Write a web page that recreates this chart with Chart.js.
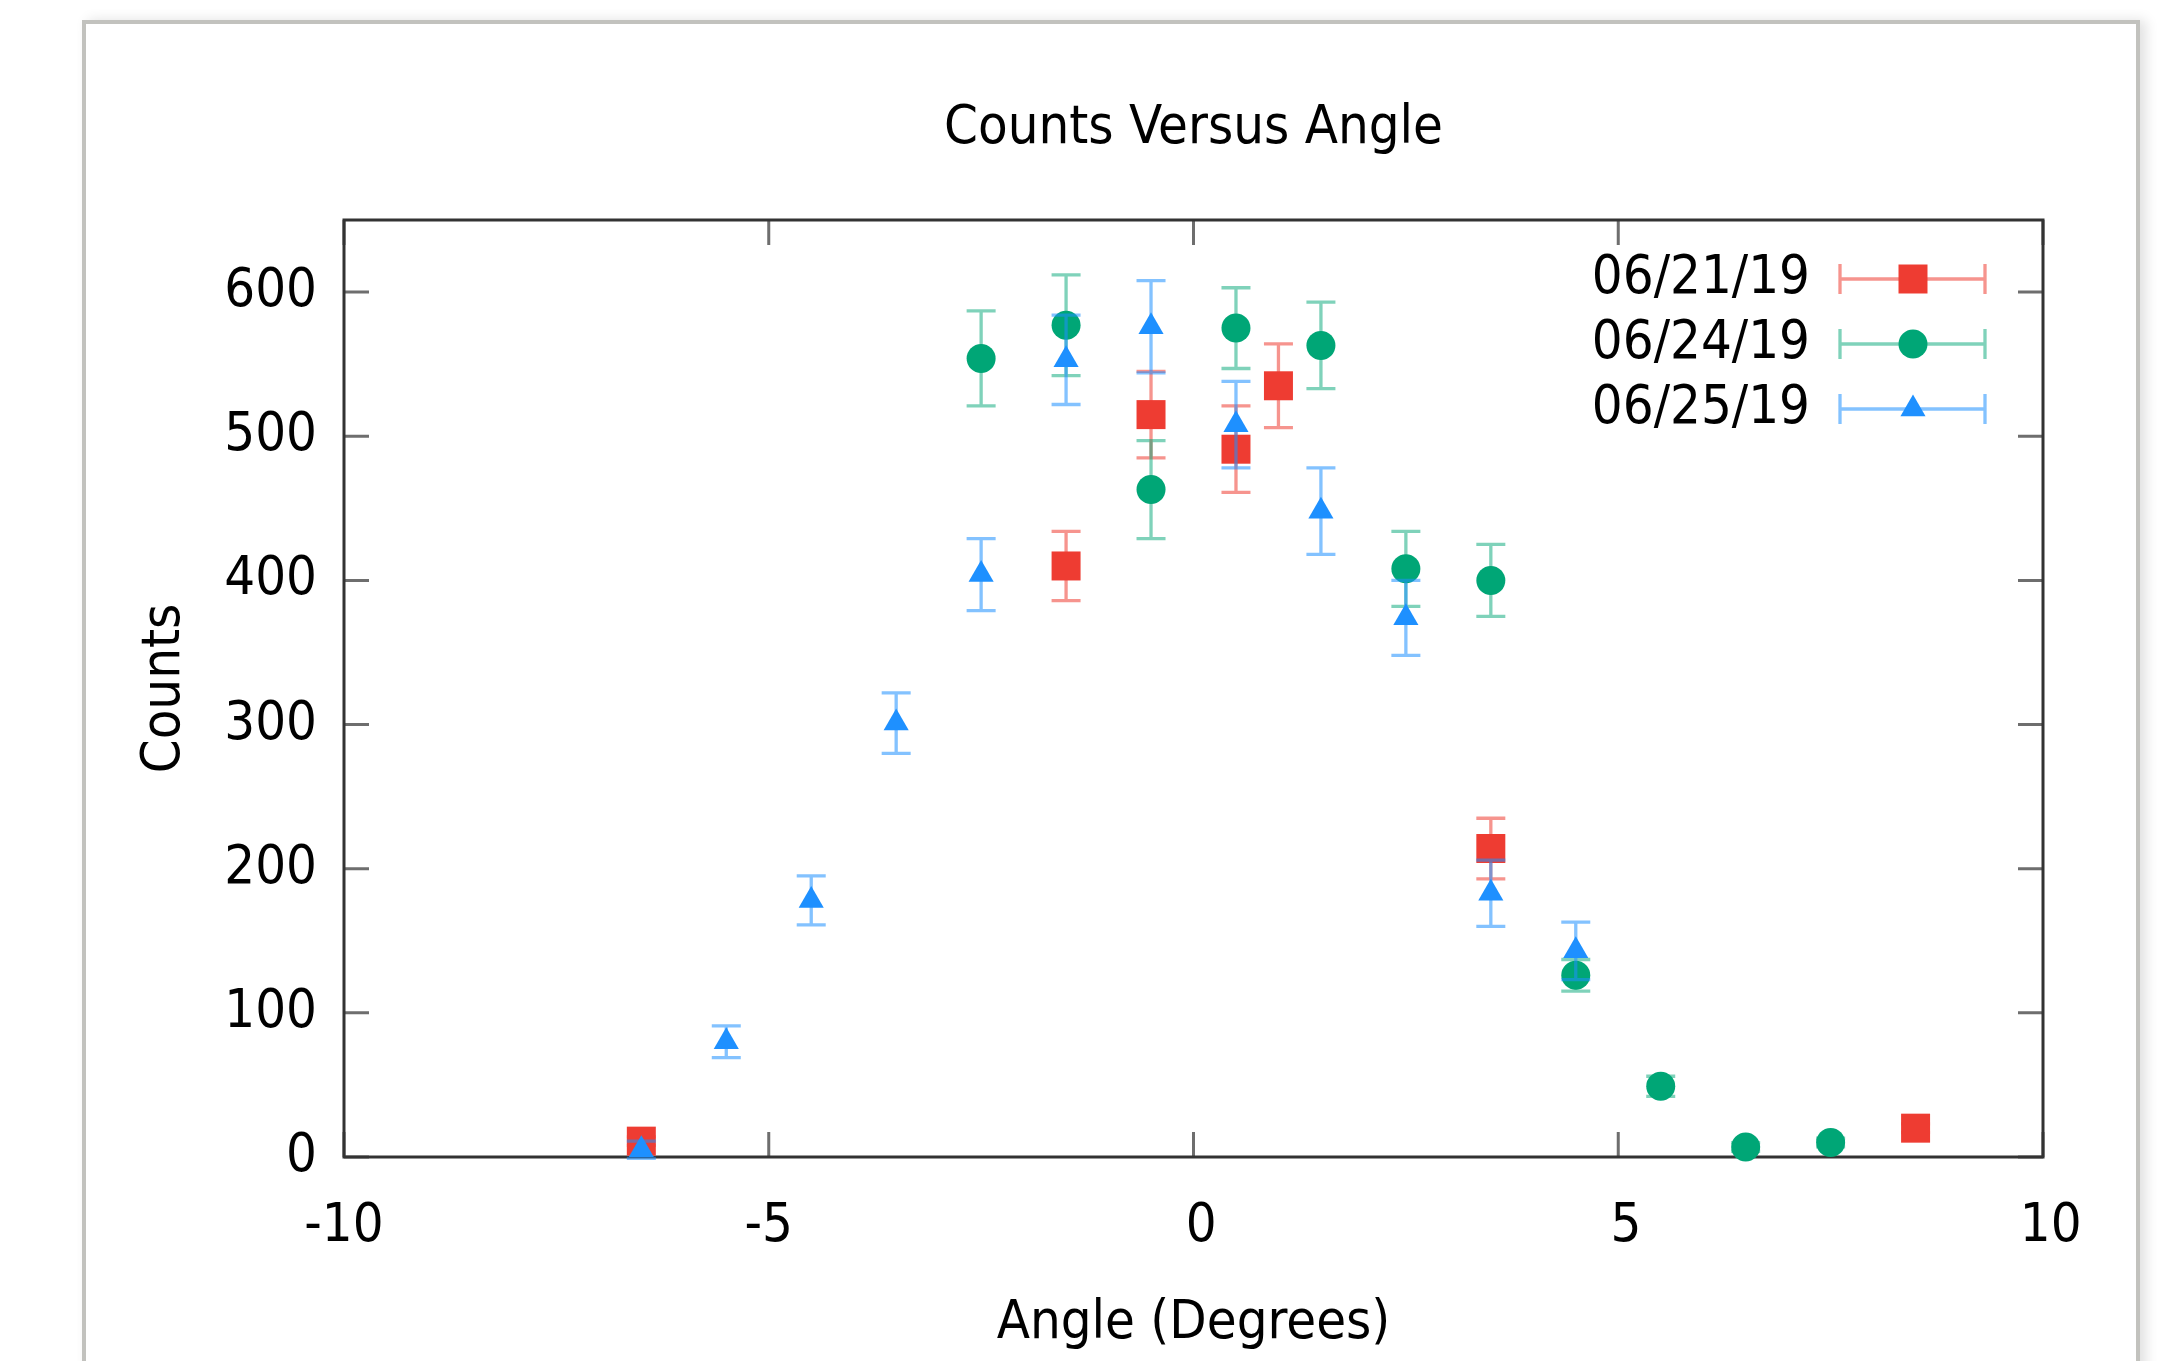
<!DOCTYPE html>
<html>
<head>
<meta charset="utf-8">
<title>Counts Versus Angle</title>
<script src="https://cdn.jsdelivr.net/npm/chart.js@4.4.1/dist/chart.umd.min.js"></script>
<style>
    html, body { margin: 0; padding: 0; background: #fff; }
    #page { position: relative; width: 2163px; height: 1361px; overflow: hidden; }
    /* window frame around the plot, like the original screenshot */
    #frame {
        position: absolute; left: 82px; top: 20px;
        width: 2050px; height: 1400px;
        border: 4px solid #c2c2be;
        box-shadow: 6px 0 12px rgba(0, 0, 0, 0.12);
    }
    #wrap { position: absolute; left: 0; top: 0; width: 2163px; height: 1361px; }
</style>
</head>
<body>
<div id="page">
    <div id="frame"></div>
    <div id="wrap"><canvas id="countsChart"></canvas></div>
</div>
<script>
// Series: angle (deg), counts, +/- error
const chartTitle = 'Counts Versus Angle';
const seriesLabels = ['06/21/19', '06/24/19', '06/25/19'];

const angles0621 = [-6.5, -1.5, -0.5, 0.5, 1.0, 3.5, 8.5];
const counts0621 = [11, 410, 515, 491, 535, 214, 20];
const errors0621 = [3, 24, 30, 30, 29, 21, 3];

const angles0624 = [-2.5, -1.5, -0.5, 0.5, 1.5, 2.5, 3.5, 4.5, 5.5, 6.5, 7.5];
const counts0624 = [554, 577, 463, 575, 563, 408, 400, 126, 49, 7, 10];
const errors0624 = [33, 35, 34, 28, 30, 26, 25, 11, 7, 3, 3];

const angles0625 = [-6.5, -5.5, -4.5, -3.5, -2.5, -1.5, -0.5, 0.5, 1.5, 2.5, 3.5, 4.5];
const counts0625 = [5, 80, 178, 301, 404, 553, 576, 508, 448, 374, 183, 143];
const errors0625 = [6, 11, 17, 21, 25, 31, 32, 30, 30, 26, 23, 20];

const xTickValues = [-10, -5, 0, 5, 10];
const yTickValues = [0, 100, 200, 300, 400, 500, 600];

const FONT_FAMILY = "'DejaVu Sans Condensed', 'DejaVu Sans', sans-serif";
const BORDER_COLOR = '#333333';
const TICK_COLOR = '#6e6e6e';
const TICK_LEN = 25;
const CAP_HALF = 14.5;
const ERR_WIDTH = 3.3;

Chart.defaults.font.family = FONT_FAMILY;
Chart.defaults.font.size = 54;
Chart.defaults.color = '#000';

function toPoints(xs, ys) {
    return xs.map((x, i) => ({ x: x, y: ys[i] }));
}

// Title centred over the plot box (chart.js centres its own over the canvas)
const plotTitlePlugin = {
    id: 'plotTitle',
    afterDraw(chart) {
        const { ctx, chartArea: a } = chart;
        ctx.save();
        ctx.fillStyle = '#000';
        ctx.font = '54px ' + FONT_FAMILY;
        ctx.textAlign = 'center';
        ctx.textBaseline = 'middle';
        ctx.fillText(chartTitle, (a.left + a.right) / 2, a.top - 91);
        ctx.restore();
    }
};

// Draws each dataset's vertical error bars just before its markers
const errorBarPlugin = {
    id: 'errorBars',
    beforeDatasetDraw(chart, args) {
        const ds = chart.data.datasets[args.index];
        const xs = chart.scales.x, ys = chart.scales.y;
        const ctx = chart.ctx;
        ctx.save();
        ctx.strokeStyle = ds.errorColor;
        ctx.lineWidth = ERR_WIDTH;
        ctx.beginPath();
        ds.data.forEach((p, i) => {
            const err = ds.errors[i];
            const px = xs.getPixelForValue(p.x);
            const top = ys.getPixelForValue(p.y + err);
            const bot = ys.getPixelForValue(p.y - err);
            ctx.moveTo(px, top); ctx.lineTo(px, bot);
            ctx.moveTo(px - CAP_HALF, top); ctx.lineTo(px + CAP_HALF, top);
            ctx.moveTo(px - CAP_HALF, bot); ctx.lineTo(px + CAP_HALF, bot);
        });
        ctx.stroke();
        ctx.restore();
    }
};

// gnuplot style box with inward ticks on all four sides
const boxTicksPlugin = {
    id: 'boxTicks',
    beforeDatasetsDraw(chart) {
        const { ctx, chartArea: a, scales: { x, y } } = chart;
        ctx.save();
        ctx.strokeStyle = TICK_COLOR;
        ctx.lineWidth = 3;
        ctx.beginPath();
        x.ticks.forEach((t) => {
            const px = x.getPixelForValue(t.value);
            ctx.moveTo(px, a.bottom); ctx.lineTo(px, a.bottom - TICK_LEN);
            ctx.moveTo(px, a.top); ctx.lineTo(px, a.top + TICK_LEN);
        });
        y.ticks.forEach((t) => {
            const py = y.getPixelForValue(t.value);
            ctx.moveTo(a.left, py); ctx.lineTo(a.left + TICK_LEN, py);
            ctx.moveTo(a.right, py); ctx.lineTo(a.right - TICK_LEN, py);
        });
        ctx.stroke();
        ctx.strokeStyle = BORDER_COLOR;
        ctx.lineWidth = 3;
        ctx.strokeRect(a.left, a.top, a.right - a.left, a.bottom - a.top);
        ctx.restore();
    }
};

// Legend in the top right corner: label, then errorbar sample with marker
const errorLegendPlugin = {
    id: 'errorLegend',
    afterDatasetsDraw(chart) {
        const { ctx, chartArea: a } = chart;
        ctx.save();
        chart.data.datasets.forEach((ds, i) => {
            const rowY = a.top + 59 + i * 65;
            const lineL = a.right - 203;
            const lineR = a.right - 58;
            const mid = a.right - 130;

            ctx.fillStyle = '#000';
            ctx.font = '54px ' + FONT_FAMILY;
            ctx.textAlign = 'right';
            ctx.textBaseline = 'middle';
            ctx.fillText(ds.label, a.right - 233, rowY);

            ctx.strokeStyle = ds.errorColor;
            ctx.lineWidth = ERR_WIDTH;
            ctx.beginPath();
            ctx.moveTo(lineL, rowY); ctx.lineTo(lineR, rowY);
            ctx.moveTo(lineL, rowY - 15); ctx.lineTo(lineL, rowY + 15);
            ctx.moveTo(lineR, rowY - 15); ctx.lineTo(lineR, rowY + 15);
            ctx.stroke();

            ctx.fillStyle = ds.backgroundColor;
            Chart.helpers.drawPoint(ctx, {
                pointStyle: ds.pointStyle,
                radius: ds.pointRadius,
                rotation: 0,
                borderWidth: 0
            }, mid, rowY);
        });
        ctx.restore();
    }
};

const ctx = document.getElementById('countsChart');

// later series drawn on top, as in the original (lower order = on top)
new Chart(ctx, {
    type: 'scatter',
    data: {
        datasets: [
            {
                label: seriesLabels[0],
                data: toPoints(angles0621, counts0621),
                errors: errors0621,
                errorColor: 'rgba(238, 60, 50, 0.55)',
                backgroundColor: '#ee3c32',
                borderColor: '#ee3c32',
                borderWidth: 0,
                pointStyle: 'rect',
                pointRadius: 20.5,
                order: 3,
                clip: false
            },
            {
                label: seriesLabels[1],
                data: toPoints(angles0624, counts0624),
                errors: errors0624,
                errorColor: 'rgba(0, 166, 118, 0.5)',
                backgroundColor: '#00a676',
                borderColor: '#00a676',
                borderWidth: 0,
                pointStyle: 'circle',
                pointRadius: 14.5,
                order: 2,
                clip: false
            },
            {
                label: seriesLabels[2],
                data: toPoints(angles0625, counts0625),
                errors: errors0625,
                errorColor: 'rgba(30, 144, 255, 0.55)',
                backgroundColor: '#1e90ff',
                borderColor: '#1e90ff',
                borderWidth: 0,
                pointStyle: 'triangle',
                pointRadius: 14.5,
                order: 1,
                clip: false
            }
        ]
    },
    options: {
        responsive: true,
        maintainAspectRatio: false,
        animation: false,
        events: [],
        layout: {
            padding: { left: 133, right: 120, top: 220, bottom: 5 }
        },
        plugins: {
            legend: { display: false },
            tooltip: { enabled: false },
            title: { display: false }
        },
        scales: {
            x: {
                type: 'linear',
                min: -10,
                max: 10,
                afterBuildTicks: (scale) => {
                    scale.ticks = xTickValues.map((v) => ({ value: v }));
                },
                afterFit: (scale) => { scale.height = 199; },
                grid: { display: false, drawTicks: false },
                border: { display: false },
                ticks: {
                    padding: 38,
                    color: '#000',
                    maxRotation: 0,
                    autoSkip: false,
                    // gnuplot leaves room for a sign on positive labels
                    callback: (v) => (v < 0 ? '' : ' ') + v
                },
                title: {
                    display: true,
                    text: 'Angle (Degrees)',
                    color: '#000',
                    padding: 0
                }
            },
            y: {
                type: 'linear',
                min: 0,
                max: 650,
                afterBuildTicks: (scale) => {
                    scale.ticks = yTickValues.map((v) => ({ value: v }));
                },
                afterFit: (scale) => { scale.width = 211; },
                grid: { display: false, drawTicks: false },
                border: { display: false },
                ticks: { padding: 27, color: '#000', autoSkip: false },
                title: {
                    display: true,
                    text: 'Counts',
                    color: '#000',
                    padding: 0
                }
            }
        }
    },
    plugins: [boxTicksPlugin, errorBarPlugin, errorLegendPlugin, plotTitlePlugin]
});
</script>
</body>
</html>
